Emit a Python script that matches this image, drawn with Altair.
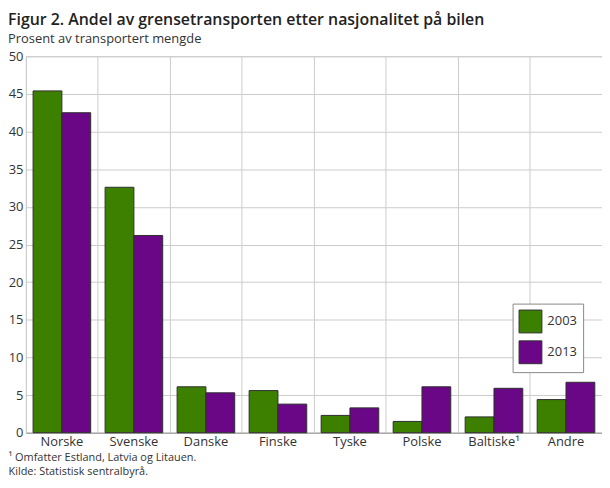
import altair as alt
import pandas as pd

categories = ["Norske", "Svenske", "Danske", "Finske", "Tyske", "Polske", "Baltiske¹", "Andre"]
values_2003 = [45.4, 32.6, 6.1, 5.6, 2.3, 1.5, 2.1, 4.4]
values_2013 = [42.5, 26.2, 5.3, 3.8, 3.3, 6.1, 5.9, 6.7]
years = ["2003", "2013"]
colors = ["#3d8000", "#6a0787"]
y_ticks = [0, 5, 10, 15, 20, 25, 30, 35, 40, 45, 50]

rows = []
for c, a, b in zip(categories, values_2003, values_2013):
    rows.append({"cat": c, "year": "2003", "value": a})
    rows.append({"cat": c, "year": "2013", "value": b})
df = pd.DataFrame(rows)

FONT = "Open Sans"

chart = alt.Chart(df).mark_bar(stroke="#2e2e2e", strokeWidth=1).encode(
    x=alt.X(
        "cat:N",
        sort=categories,
        scale=alt.Scale(paddingInner=0, paddingOuter=0),
        axis=alt.Axis(
            title=["¹ Omfatter Estland, Latvia og Litauen.", "Kilde: Statistisk sentralbyrå."],
            titleFontSize=11,
            titleFontWeight="normal",
            titleColor="#333333",
            titleFont=FONT,
            titleAlign="left",
            titleAnchor="start",
            titleBaseline="alphabetic",
            titleX=-18,
            titleY=28,
            titleLineHeight=14,
            labelAngle=0,
            labelFontSize=13,
            labelFont=FONT,
            labelColor="#333333",
            labelPadding=3,
            ticks=False,
            domainColor="#999999",
            grid=True,
            gridColor="#cccccc",
            bandPosition=0,
        ),
    ),
    xOffset=alt.XOffset("year:N", scale=alt.Scale(paddingOuter=0.25, paddingInner=0)),
    y=alt.Y(
        "value:Q",
        scale=alt.Scale(domain=[0, 50], nice=False),
        axis=alt.Axis(
            title=None,
            values=y_ticks,
            labelFontSize=13,
            labelFont=FONT,
            labelColor="#333333",
            labelPadding=3,
            ticks=False,
            domain=False,
            grid=True,
            gridColor="#cccccc",
        ),
    ),
    color=alt.Color(
        "year:N",
        scale=alt.Scale(domain=years, range=colors),
        legend=alt.Legend(
            title=None,
            orient="none",
            legendX=490,
            legendY=249,
            symbolType="square",
            symbolSize=529,
            symbolStrokeColor="#2e2e2e",
            symbolStrokeWidth=1,
            labelFontSize=13,
            labelFont=FONT,
            labelColor="#333333",
            labelOffset=5,
            rowPadding=3,
            padding=6,
            strokeColor="#888888",
            fillColor="white",
            cornerRadius=0,
        ),
    ),
).properties(
    width=580,
    height=379,
    padding={"left": 18, "top": 47, "right": 0, "bottom": 46},
    autosize=alt.AutoSizeParams(type="none"),
    title=alt.TitleParams(
        text="Figur 2. Andel av grensetransporten etter nasjonalitet på bilen",
        subtitle="Prosent av transportert mengde",
        anchor="start",
        frame="group",
        dx=-18,
        offset=4,
        font=FONT,
        fontSize=16,
        fontWeight=600,
        color="#222222",
        subtitleFont=FONT,
        subtitleFontSize=13,
        subtitleColor="#333333",
        subtitlePadding=5,
    ),
).configure_view(stroke="#cccccc")

chart.save("out.html", embed_options={"renderer": "svg", "actions": False})
